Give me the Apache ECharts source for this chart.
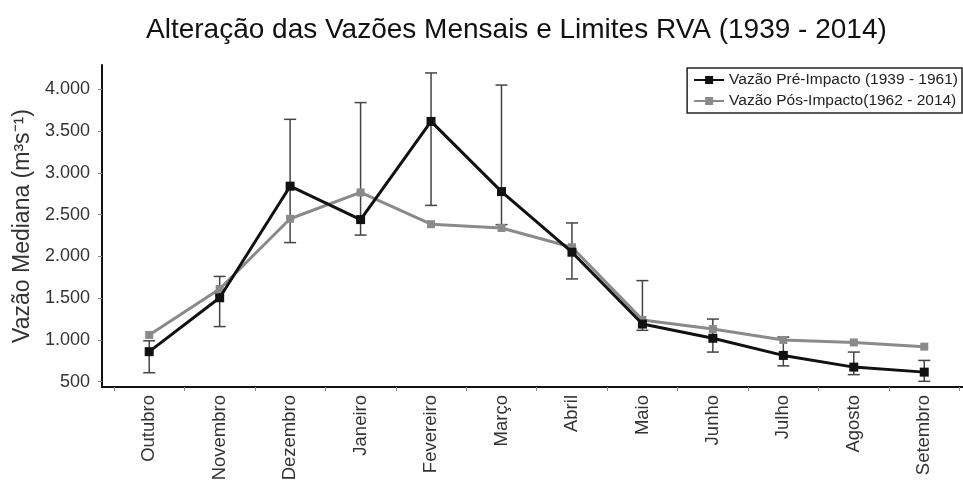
<!DOCTYPE html>
<html>
<head>
<meta charset="utf-8">
<script src="https://cdn.jsdelivr.net/npm/echarts@6/dist/echarts.min.js"></script>
<style>
html,body{margin:0;padding:0;background:#fff;}
#chart{width:963px;height:487px;}
</style>
</head>
<body>
<div id="chart"></div>
<script>
const months = ['Outubro','Novembro','Dezembro','Janeiro','Fevereiro','Março','Abril','Maio','Junho','Julho','Agosto','Setembro'];
const preImpacto = [860, 1505, 2840, 2440, 3615, 2775, 2050, 1190, 1020, 815, 675, 615];
const posImpacto = [1060, 1610, 2450, 2765, 2385, 2340, 2110, 1240, 1130, 1000, 970, 920];
const limiteInferior = [608, 1160, 2165, 2255, 2610, 2380, 1730, 1115, 855, 690, 585, 505];
const limiteSuperior = [990, 1760, 3640, 3840, 4195, 4050, 2400, 1710, 1250, 1035, 855, 755];
const yTicks = [500, 1000, 1500, 2000, 2500, 3000, 3500, 4000];

const FONT = '"Liberation Sans", Arial, sans-serif';
const monthIdx = months.map((m, i) => i);
const boundaries = months.map((m, i) => i - 0.5).concat([months.length - 0.5]);

const chart = echarts.init(document.getElementById('chart'), null, {renderer: 'canvas'});
chart.setOption({
  animation: false,
  backgroundColor: '#fff',
  title: {
    text: 'Alteração das Vazões Mensais e Limites RVA (1939 - 2014)',
    left: 141,
    top: 11,
    textStyle: {fontFamily: FONT, fontSize: 28, fontWeight: 'normal', color: '#111'}
  },
  legend: {
    orient: 'vertical',
    right: 1,
    top: 68,
    padding: [4, 4, 4, 6],
    itemGap: 5,
    itemWidth: 30,
    itemHeight: 10,
    borderColor: '#222',
    borderWidth: 1.5,
    textStyle: {fontFamily: FONT, fontSize: 15.5, color: '#222'},
    data: ['Vazão Pré-Impacto (1939 - 1961)', 'Vazão Pós-Impacto(1962 - 2014)']
  },
  grid: {left: 102, right: 0, top: 65, bottom: 100},
  xAxis: {
    type: 'value',
    min: -0.67,
    max: 11.55,
    splitLine: {show: false},
    axisLine: {onZero: false, lineStyle: {color: '#111', width: 2}},
    axisTick: {show: true, length: 4, lineStyle: {color: '#888'}, customValues: boundaries},
    axisLabel: {
      customValues: monthIdx,
      rotate: 90,
      margin: 8,
      fontFamily: FONT,
      fontSize: 18.5,
      color: '#333',
      formatter: v => months[Math.round(v)]
    }
  },
  yAxis: {
    type: 'value',
    min: 437,
    max: 4290,
    name: 'Vazão Mediana (m³s⁻¹)',
    nameLocation: 'middle',
    nameGap: 59,
    nameTextStyle: {fontFamily: FONT, fontSize: 23, color: '#333'},
    splitLine: {show: false},
    axisLine: {show: true, onZero: false, lineStyle: {color: '#111', width: 2}},
    axisTick: {show: true, length: 4, lineStyle: {color: '#888'}, customValues: yTicks},
    axisLabel: {
      customValues: yTicks,
      margin: 12,
      fontFamily: FONT,
      fontSize: 18,
      color: '#333',
      formatter: v => String(v).replace(/\B(?=(\d{3})+(?!\d))/g, '.')
    }
  },
  series: [
    {
      type: 'custom',
      name: 'Limites RVA',
      z: 1,
      data: months.map((m, i) => [i, limiteInferior[i], limiteSuperior[i]]),
      encode: {x: 0, y: [1, 2]},
      renderItem: function (params, api) {
        const x = api.value(0);
        const lo = api.coord([x, api.value(1)]);
        const hi = api.coord([x, api.value(2)]);
        const hw = 6;
        const style = {stroke: '#444', lineWidth: 1.5, fill: 'none'};
        return {
          type: 'group',
          children: [
            {type: 'line', shape: {x1: lo[0], y1: lo[1], x2: hi[0], y2: hi[1]}, style: style},
            {type: 'line', shape: {x1: lo[0] - hw, y1: lo[1], x2: lo[0] + hw, y2: lo[1]}, style: style},
            {type: 'line', shape: {x1: hi[0] - hw, y1: hi[1], x2: hi[0] + hw, y2: hi[1]}, style: style}
          ]
        };
      }
    },
    {
      type: 'line',
      name: 'Vazão Pós-Impacto(1962 - 2014)',
      z: 2,
      data: months.map((m, i) => [i, posImpacto[i]]),
      symbol: 'rect',
      symbolSize: 8,
      color: '#8a8a8a',
      lineStyle: {color: '#8a8a8a', width: 3},
      itemStyle: {color: '#8a8a8a'}
    },
    {
      type: 'line',
      name: 'Vazão Pré-Impacto (1939 - 1961)',
      z: 3,
      data: months.map((m, i) => [i, preImpacto[i]]),
      symbol: 'rect',
      symbolSize: 9,
      color: '#111',
      lineStyle: {color: '#111', width: 3},
      itemStyle: {color: '#111'}
    }
  ]
});
</script>
</body>
</html>
